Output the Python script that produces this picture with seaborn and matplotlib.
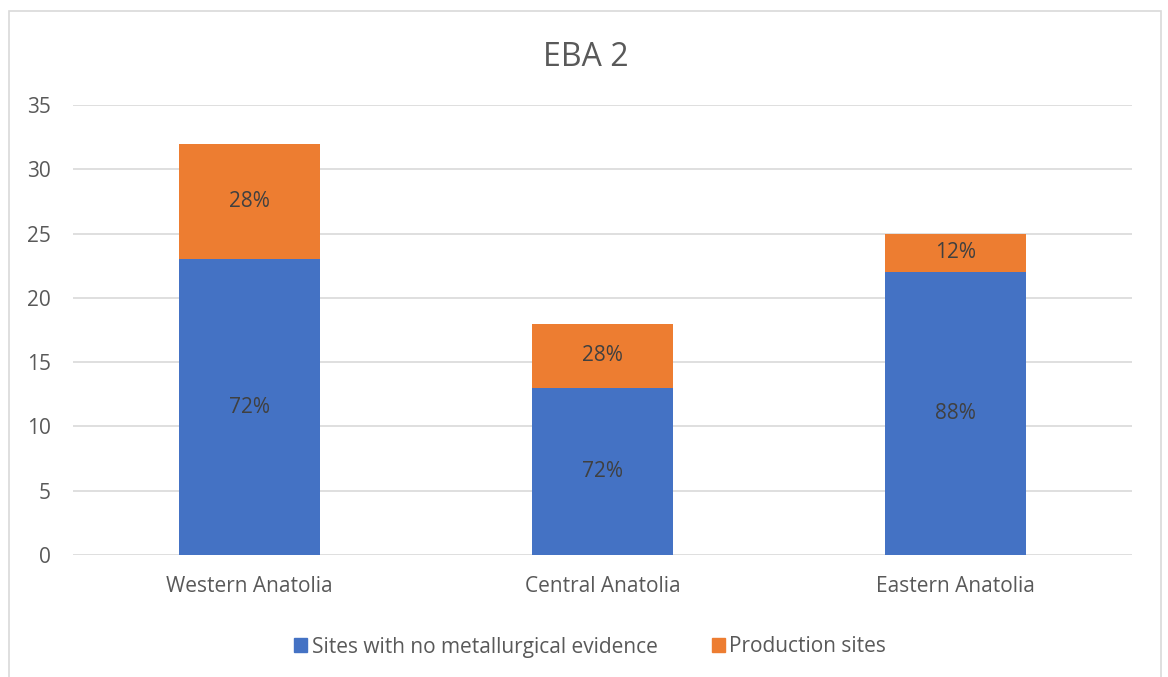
import matplotlib
matplotlib.use("Agg")
import matplotlib.pyplot as plt
import matplotlib.patches as mpatches
import seaborn as sns
import pandas as pd

regions = ["Western Anatolia", "Central Anatolia", "Eastern Anatolia"]
no_evidence = [23, 13, 22]
production = [9, 5, 3]
series_names = ["Sites with no metallurgical evidence", "Production sites"]

BLUE = "#4472C4"
ORANGE = "#ED7D31"
GREY_TEXT = "#595959"

sns.set_theme(style="white")
plt.rcParams["font.family"] = ["Open Sans", "DejaVu Sans"]

totals = [a + b for a, b in zip(no_evidence, production)]
df = pd.DataFrame({"region": regions, "base": no_evidence,
                   "top": production, "total": totals})

fig = plt.figure(figsize=(11.68, 6.77), dpi=100)
ax = fig.add_axes([73 / 1168, 1 - 555 / 677, (1132 - 73) / 1168, (555 - 105) / 677])

# stacked bars: full total in orange, base series drawn over it in blue
sns.barplot(data=df, x="region", y="total", color=ORANGE, width=0.4,
            saturation=1, linewidth=0, ax=ax, zorder=3)
sns.barplot(data=df, x="region", y="base", color=BLUE, width=0.4,
            saturation=1, linewidth=0, ax=ax, zorder=3)

base_bars = ax.containers[1]

for bar, b, t in zip(base_bars, no_evidence, production):
    tot = b + t
    x = bar.get_x() + bar.get_width() / 2
    ax.text(x, b / 2, f"{round(100 * b / tot)}%", ha="center", va="center",
            fontsize=15, color="#404040", zorder=4)
    ax.text(x, b + t / 2, f"{round(100 * t / tot)}%", ha="center", va="center",
            fontsize=15, color="#404040", zorder=4)

ax.set_ylim(0, 35)
ax.set_yticks(range(0, 36, 5))
ax.set_xlim(-0.5, 2.5)
ax.yaxis.grid(True, color="#D9D9D9", linewidth=1.2, zorder=0)
ax.set_axisbelow(True)
for s in ax.spines.values():
    s.set_visible(False)
ax.set_xlabel("")
ax.set_ylabel("")
ax.tick_params(axis="both", length=0, labelsize=15, labelcolor=GREY_TEXT)
ax.tick_params(axis="y", pad=16)
ax.tick_params(axis="x", pad=15)

fig.text(586 / 1168, 1 - 58 / 677, "EBA 2", ha="center", va="center",
         fontsize=23, color=GREY_TEXT)

handles = [mpatches.Patch(color=BLUE, label=series_names[0]),
           mpatches.Patch(color=ORANGE, label=series_names[1])]
fig.legend(handles=handles, loc="center", bbox_to_anchor=(590 / 1168, 1 - 647 / 677),
           ncol=2, frameon=False, fontsize=15, handlelength=0.65, handleheight=0.65,
           handletextpad=0.2, columnspacing=2.6, labelcolor=GREY_TEXT)

fig.patches.append(mpatches.Rectangle((9 / 1168, -0.01), (1161 - 9) / 1168, 1 - 11 / 677 + 0.01,
                                      transform=fig.transFigure, fill=False,
                                      edgecolor="#D9D9D9", linewidth=1.2))

fig.savefig("out.png", dpi=100, facecolor="white")
